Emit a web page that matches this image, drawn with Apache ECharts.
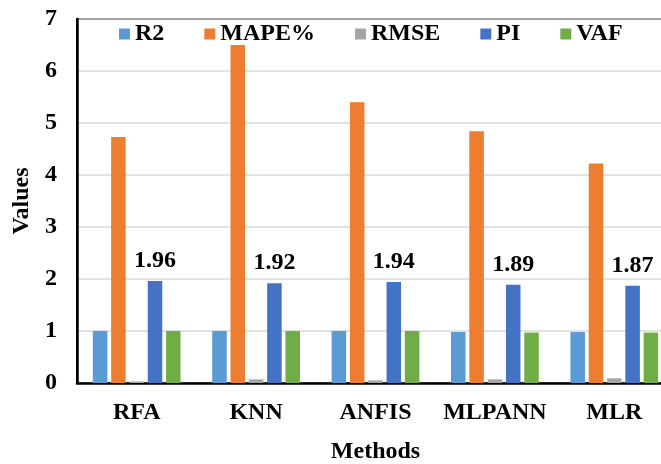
<!DOCTYPE html>
<html>
<head>
<meta charset="utf-8">
<script src="https://cdn.jsdelivr.net/npm/echarts@6/dist/echarts.min.js"></script>
<style>
html,body{margin:0;padding:0;background:#fff;}
#chart{width:661px;height:464px;}
</style>
</head>
<body>
<div id="chart"></div>
<script>
var categories = ['RFA', 'KNN', 'ANFIS', 'MLPANN', 'MLR'];
var r2Values = [1.0, 1.0, 1.0, 0.98, 0.98];
var mapeValues = [4.73, 6.5, 5.40, 4.84, 4.22];
var rmseValues = [0.03, 0.07, 0.05, 0.07, 0.09];
var piValues = [1.96, 1.92, 1.94, 1.89, 1.87];
var vafValues = [1.0, 1.0, 1.0, 0.97, 0.97];
var seriesNames = ['R2', 'MAPE%', 'RMSE', 'PI', 'VAF'];
var colors = ['#5B9BD5', '#ED7D31', '#A5A5A5', '#4472C4', '#70AD47'];

var FONT = "'Liberation Serif', 'Times New Roman', serif";
var chart = echarts.init(document.getElementById('chart'), null, {renderer: 'canvas'});

function mk(name, data, color, withLabel) {
  var s = {
    name: name,
    type: 'bar',
    data: data,
    itemStyle: {color: color},
    barGap: '26%',
    barCategoryGap: '26.5%',
    animation: false
  };
  if (withLabel) {
    s.label = {
      show: true,
      position: 'top',
      distance: 8,
      color: '#000',
      fontFamily: FONT,
      fontWeight: 'bold',
      fontSize: 24,
      formatter: function (p) { return p.value.toFixed(2); }
    };
  }
  return s;
}

var option = {
  animation: false,
  color: colors,
  grid: {
    left: 77, top: 19, width: 597, height: 364,
    containLabel: false,
    outerBoundsMode: 'none',
    show: true, borderColor: '#000', borderWidth: 2, backgroundColor: 'transparent'
  },
  legend: {
    data: seriesNames,
    left: 114, top: 17,
    itemWidth: 11, itemHeight: 11, itemGap: 40,
    icon: 'rect',
    textStyle: {fontFamily: FONT, fontWeight: 'bold', fontSize: 24, color: '#000'}
  },
  xAxis: {
    type: 'category',
    data: categories,
    name: 'Methods',
    nameLocation: 'middle',
    nameGap: 57,
    nameTextStyle: {fontFamily: FONT, fontWeight: 'bold', fontSize: 24, color: '#000'},
    axisLine: {lineStyle: {color: '#000', width: 2.5}},
    axisTick: {show: false},
    axisLabel: {interval: 0, fontFamily: FONT, fontWeight: 'bold', fontSize: 24, color: '#000', margin: 18}
  },
  yAxis: {
    type: 'value',
    min: 0, max: 7, interval: 1,
    name: 'Values',
    nameLocation: 'middle',
    nameGap: 38,
    nameTextStyle: {fontFamily: FONT, fontWeight: 'bold', fontSize: 24, color: '#000'},
    axisLine: {show: true, lineStyle: {color: '#000', width: 2.5}},
    axisTick: {show: false},
    axisLabel: {fontFamily: FONT, fontWeight: 'bold', fontSize: 24, color: '#000', margin: 20},
    splitLine: {lineStyle: {color: '#D9D9D9', width: 1.5}}
  },
  series: [
    mk(seriesNames[0], r2Values, colors[0], false),
    mk(seriesNames[1], mapeValues, colors[1], false),
    mk(seriesNames[2], rmseValues, colors[2], false),
    mk(seriesNames[3], piValues, colors[3], true),
    mk(seriesNames[4], vafValues, colors[4], false)
  ]
};
chart.setOption(option);
</script>
</body>
</html>
